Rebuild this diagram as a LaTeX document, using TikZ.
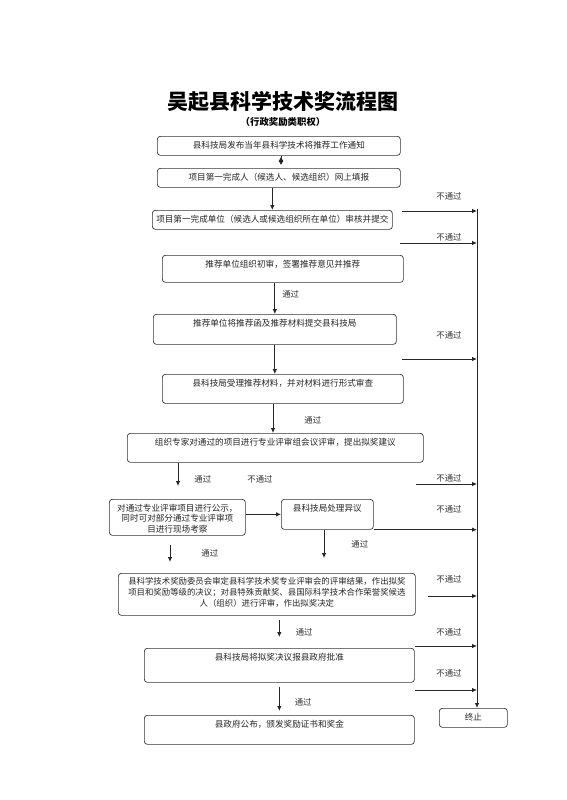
\documentclass[tikz,border=0pt]{standalone}
\usepackage{fontspec}
\setmainfont{Noto Sans CJK SC}
\usepackage{xcolor}
\usepackage{tikz}
\usetikzlibrary{arrows.meta}
\newcommand{\boxtxt}[3]{\parbox[c][#2pt][t]{#1pt}{\centering\vspace*{4.5pt}#3}}

\begin{document}
\begin{tikzpicture}[
  x=1pt, y=-1pt,
  box/.style={draw=black!80, line width=0.7pt, rounded corners=3pt, inner sep=0pt,
              anchor=north west, text=black!85, font=\fontsize{8.6}{10.5}\selectfont},
  arr/.style={-{Latex[length=5pt,width=4.5pt]}, draw=black!85, line width=0.8pt},
  lbl/.style={font=\fontsize{8.4}{10}\selectfont, text=black!80, inner sep=0pt}
]
\useasboundingbox[fill=white] (0,0) rectangle (566,800);
\node[font=\fontsize{21}{24}\selectfont\bfseries] (title) at (283,102) {吴起县科学技术奖流程图};
\node[font=\fontsize{9.4}{11}\selectfont\bfseries] (sub) at (283,122) {（行政奖励类职权）};
% main column
\node[box] (notice) at (157,136) {\boxtxt{243}{19}{县科技局发布当年县科学技术将推荐工作通知}};
\node[box] (fill) at (157,168) {\boxtxt{243}{19}{项目第一完成人（候选人、候选组织）网上填报}};
\node[box] (unit) at (152,210) {\boxtxt{240}{19}{项目第一完成单位（候选人或候选组织所在单位）审核并提交}};
\node[box] (first) at (162,255) {\boxtxt{241}{27}{推荐单位组织初审，签署推荐意见并推荐}};
\node[box] (submit) at (153,314) {\boxtxt{243}{30}{推荐单位将推荐函及推荐材料提交县科技局}};
\node[box] (accept) at (162,374) {\boxtxt{241}{29}{县科技局受理推荐材料，并对材料进行形式审查}};
\node[box] (expert) at (127,433) {\boxtxt{296}{29}{组织专家对通过的项目进行专业评审组会议评审，提出拟奖建议}};
\node[box] (publ) at (109,499) {\boxtxt{136}{36}{对通过专业评审项目进行公示，\\同时可对部分通过专业评审项\\目进行现场考察}};
\node[box] (objec) at (281,499) {\boxtxt{92}{30}{县科技局处理异议}};
\node[box, font=\fontsize{8.4}{11}\selectfont] (commit) at (118,573)
  {\boxtxt{297}{42}{县科学技术奖励委员会审定县科学技术奖专业评审会的评审结果，作出拟奖\\项目和奖励等级的决议；对县特殊贡献奖、县国际科学技术合作荣誉奖候选\\人（组织）进行评审，作出拟奖决定}};
\node[box] (gov) at (144,648) {\boxtxt{270}{34}{县科技局将拟奖决议报县政府批准}};
\node[box] (award) at (144,715) {\boxtxt{270}{29}{县政府公布，颁发奖励证书和奖金}};
\node[box] (stop) at (439,708) {\boxtxt{68}{19}{终止}};
% free ends
\coordinate (rtop) at (477,209);
\coordinate (n1) at (402,211);
\coordinate (n2) at (400,243);
\coordinate (n3) at (402,359);
\coordinate (n4) at (416,484);
\coordinate (n6) at (428,596);
\coordinate (n7) at (415,646);
\coordinate (n8) at (415,690);
\coordinate (e1) at (178,486);
\coordinate (p1) at (170,545);
\coordinate (p2) at (170,562);
\coordinate (e2) at (324,558);
% downward flow
\draw[arr, -{Latex[length=4pt,width=5pt,reversed]Latex[length=4pt,width=5pt]}, shorten >=3pt]
  (notice.south -| 281,0) -- (fill.north -| 281,0);
\draw[arr] (fill.south -| unit.north) -- (unit.north);
\draw[arr] (first.south -| submit.north) -- node[lbl, right=7pt, yshift=4pt]{通过} (submit.north);
\draw[arr] (submit.south) -- (submit.south |- accept.north);
\draw[arr] (accept.south -| 273,0) -- node[lbl, right=31pt, yshift=-2pt]{通过} (expert.north -| 273,0);
\draw[arr] (expert.south -| e1) -- node[lbl, right=16pt, yshift=-5pt]{通过} (e1);
\node[lbl] (nopass) at (260,479) {不通过};
\draw[arr] (publ.east |- objec) -- (objec.west);
\draw[arr] (p1) -- node[lbl, right=31pt]{通过} (p2);
\draw[arr] (objec.south -| e2) -- node[lbl, right=27pt]{通过} (e2);
\draw[arr, shorten <=4pt, shorten >=11pt] (commit.south -| gov.north) -- node[lbl, right=16pt]{通过} (gov.north);
\draw[arr, shorten <=4pt, shorten >=4pt] (gov.south) -- node[lbl, right=15pt, yshift=-3pt]{通过} (award.north);
% rejections to the right
\draw[arr] (rtop) -- (rtop |- stop.north);
\draw[arr] (n1) -- (n1 -| rtop) node[lbl, xshift=-28pt, yshift=15pt]{不通过};
\draw[arr] (n2) -- (n2 -| rtop) node[lbl, xshift=-28pt, yshift=6pt]{不通过};
\draw[arr] (n3) -- (n3 -| rtop) node[lbl, xshift=-28pt, yshift=24pt]{不通过};
\draw[arr] (n4) -- (n4 -| rtop) node[lbl, xshift=-28pt, yshift=6pt]{不通过};
\draw[arr] (objec.south east) -- (objec.south east -| rtop) node[lbl, xshift=-28pt, yshift=20pt]{不通过};
\draw[arr] (n6) -- (n6 -| rtop) node[lbl, xshift=-28pt, yshift=17pt]{不通过};
\draw[arr] (n7) -- (n7 -| rtop) node[lbl, xshift=-28pt, yshift=14pt]{不通过};
\draw[arr] (n8) -- (n8 -| rtop) node[lbl, xshift=-28pt, yshift=17pt]{不通过};
\end{tikzpicture}
\end{document}
